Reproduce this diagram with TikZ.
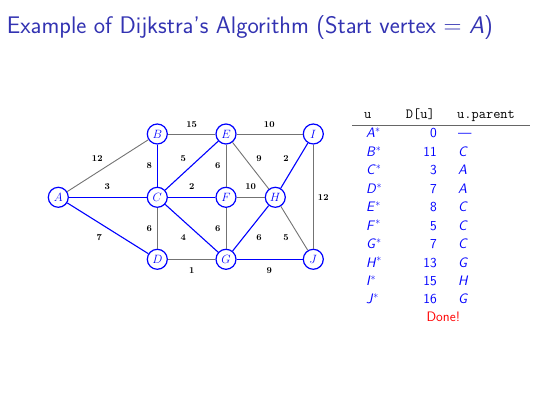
\documentclass[tikz,border=0pt]{standalone}
\usepackage{amsmath,amssymb}
\usepackage{tikz}

\definecolor{titleblue}{rgb}{0.2,0.2,0.7}
\tikzset{
  vtx/.style={circle, draw=blue, fill=white, line width=1.2pt, minimum size=20pt,
    inner sep=0pt, text=blue, font=\fontsize{11.5}{13}\selectfont},
  wt/.style={inner sep=0pt, font=\fontsize{9}{10}\selectfont\bfseries},
  plain/.style={draw=black!55, line width=0.9pt},
  tree/.style={draw=blue, line width=1.1pt},
  tab/.style={inner sep=0pt, text=blue, font=\sffamily\fontsize{13.7}{16}\selectfont},
  hdr/.style={inner sep=0pt, font=\ttfamily\fontsize{14}{16}\selectfont}
}

\begin{document}
\begin{tikzpicture}[x=1pt,y=-1pt]
  \useasboundingbox (0,0) rectangle (542,406);
  \node[anchor=base west, inner sep=0pt, text=titleblue,
    font=\sffamily\fontsize{24}{28}\selectfont] (title) at (6.7,33.3)
    {Example of Dijkstra's Algorithm (Start vertex $=$ \textit{A})};

  % graph
  \node[vtx] (A) at (58.3,197.3) {$A$};
  \node[vtx] (B) at (157.3,134) {$B$};
  \node[vtx] (C) at (157.3,197.3) {$C$};
  \node[vtx] (D) at (157.3,259.3) {$D$};
  \node[vtx] (E) at (226,134) {$E$};
  \node[vtx] (F) at (226,197.3) {$F$};
  \node[vtx] (G) at (226,259.3) {$G$};
  \node[vtx] (H) at (275.3,197.3) {$H$};
  \node[vtx] (I) at (313.3,134) {$I$};
  \node[vtx] (J) at (313.3,259.3) {$J$};

  \foreach \a/\b in {A/B, B/E, E/I, E/F, E/H, F/H, C/D, F/G, D/G, H/J, I/J}
    \draw[plain] (\a) -- (\b);
  \foreach \a/\b in {A/C, A/D, B/C, C/E, C/F, C/G, G/H, H/I, G/J}
    \draw[tree] (\a) -- (\b);

  \foreach \x/\y/\t [count=\i] in {97.3/158.3/12, 107.3/186.7/3, 99.3/237.3/7,
      191.7/124.3/15, 269.3/124.3/10, 149.3/166/8, 183.3/158.3/5, 217.7/166/6,
      259/158.3/9, 286/158.3/2, 191.7/186.7/2, 250.7/186.7/10, 323.3/197.7/12,
      149.3/228.3/6, 183.3/237.3/4, 217.7/228.3/6, 259/237.3/6, 286/237.3/5,
      191.7/271/1, 269.3/271/9}
    \node[wt] (w\i) at (\x,\y) {\t};

  % table
  \node[hdr, anchor=base west] (hu) at (364,119) {u};
  \node[hdr, anchor=base east] (hd) at (435,119) {D[u]};
  \node[hdr, anchor=base west] (hp) at (457,119) {u.parent};
  \draw[black!60, line width=0.8pt] (352,125) -- (530,125);

  \foreach \v/\d/\p [count=\i from 0] in {A/0/{---}, B/11/\textit{C}, C/3/\textit{A},
      D/7/\textit{A}, E/8/\textit{C}, F/5/\textit{C}, G/7/\textit{C},
      H/13/\textit{G}, I/15/\textit{H}, J/16/\textit{G}} {
    \node[tab, anchor=base west] (u\v) at (366,138+18.44*\i) {\textit{\v}$^*$};
    \node[tab, anchor=base east] (d\v) at (437,138+18.44*\i) {\d};
    \node[tab, anchor=base west] (p\v) at (458,138+18.44*\i) {\p};
  }
  \node[tab, text=red, anchor=base] (done) at (443.3,322) {Done!};
\end{tikzpicture}
\end{document}
